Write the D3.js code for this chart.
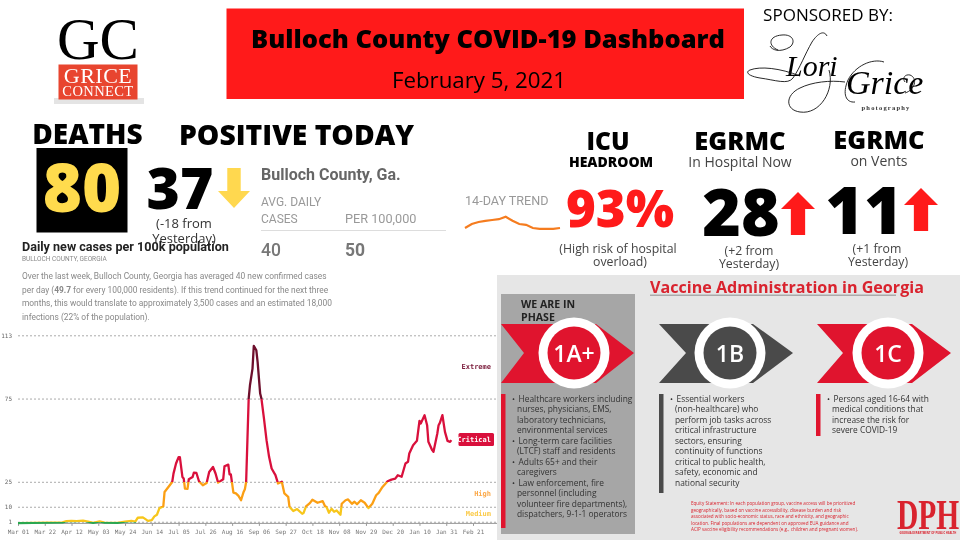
<!DOCTYPE html>
<html>
<head>
<meta charset="utf-8">
<script src="https://cdn.jsdelivr.net/npm/d3@7"></script>
<style>
  html, body { margin: 0; padding: 0; background: #fff; overflow: hidden; }
  svg { display: block; filter: blur(0.35px); }
  text { font-family: "Open Sans", sans-serif; }
  .mono text, text.mono { font-family: "DejaVu Sans Mono", monospace; }
</style>
</head>
<body>
<svg id="chart" width="960" height="540"></svg>
<script>
// days since Mar 01 2020 and daily new cases per 100k
const caseDays = [0, 35, 38, 42, 46, 51, 55, 59, 64, 68, 78, 84, 89, 92, 94, 98, 102, 105, 107, 109, 111, 114, 115, 118, 121, 122, 124, 126, 127, 129, 130, 131, 133, 134, 137, 138, 140, 142, 145, 148, 150, 153, 155, 157, 161, 162, 165, 166, 167, 169, 171, 173, 175, 177, 178, 179, 180, 181, 182, 184, 185, 187, 188, 190, 191, 193, 195, 197, 199, 202, 204, 207, 209, 212, 213, 216, 219, 223, 224, 226, 229, 231, 235, 239, 241, 242, 244, 246, 248, 250, 253, 254, 257, 259, 262, 264, 266, 269, 272, 275, 278, 281, 283, 286, 290, 293, 296, 298, 301, 304, 306, 307, 310, 313, 315, 316, 319, 321, 322, 325, 326, 329, 330, 331, 333, 335, 337, 339, 340];
const caseValues = [0.2, 0.6, 1.4, 1.5, 1.4, 1.7, 1.1, 0.3, 1.2, 0.5, 0.3, 1.0, 1.5, 1.1, 3.4, 3.6, 1.5, 1.9, 4.2, 5.2, 9.2, 10.2, 18.9, 21.9, 24.9, 29.9, 36, 39.8, 39.8, 27.9, 27, 20.9, 20.7, 26.5, 27.9, 30.5, 30.3, 25.3, 22.9, 24.3, 30.9, 33.9, 30, 24.5, 26.5, 34.3, 35.3, 29.5, 29.4, 18.5, 18, 16.5, 13.9, 18.9, 20.5, 24.9, 50, 75, 83, 93, 106.6, 104, 97, 78, 75, 63, 50, 40, 33, 29, 24, 25, 18, 16, 10, 7.4, 8.6, 5.8, 6.2, 10.2, 12.2, 14.2, 12.4, 13.4, 10.2, 10, 6.4, 8.8, 7, 7.8, 5.2, 11.8, 13.9, 14.4, 11.8, 13, 11.5, 13.9, 12.4, 9.2, 11.8, 16.9, 18.3, 21.9, 25.3, 26.3, 26.9, 28.9, 28, 36, 37, 42, 47, 49.6, 61.6, 60, 65, 59, 49, 44, 43, 54, 59, 60.4, 65, 55, 49.6, 49, 50];

const xTickDays = [0, 21, 42, 63, 84, 105, 126, 147, 168, 189, 210, 231, 252, 273, 294, 315, 336, 357];
const xTickLabels = ['Mar 01', 'Mar 22', 'Apr 12', 'May 03', 'May 24', 'Jun 14', 'Jul 05', 'Jul 26', 'Aug 16', 'Sep 06', 'Sep 27', 'Oct 18', 'Nov 08', 'Nov 29', 'Dec 20', 'Jan 10', 'Jan 31', 'Feb 21'];
const yTicks = [1, 10, 25, 75, 113];

// 14-day sparkline, avg daily cases
const trendValues = [40, 45, 47.5, 49, 50, 51, 54, 49, 45, 44, 40, 39, 39, 39, 40];

const paragraphLines = [
    ['Over the last week, Bulloch County, Georgia has averaged 40 new confirmed cases'],
    ['per day (', '49.7', ' for every 100,000 residents). If this trend continued for the next three'],
    ['months, this would translate to approximately 3,500 cases and an estimated 18,000'],
    ['infections (22% of the population).']
];
const phase1A = ['Healthcare workers including', 'nurses, physicians, EMS,', 'laboratory technicians,', 'environmental services', 'Long-term care facilities', '(LTCF) staff and residents', 'Adults 65+ and their', 'caregivers', 'Law enforcement, fire', 'personnel (including', 'volunteer fire departments),', 'dispatchers, 9-1-1 operators'];
const phase1ABullets = [0, 4, 6, 8];
const phase1B = ['Essential workers', '(non-healthcare) who', 'perform job tasks across', 'critical infrastructure', 'sectors, ensuring', 'continuity of functions', 'critical to public health,', 'safety, economic and', 'national security'];
const phase1C = ['Persons aged 16-64 with', 'medical conditions that', 'increase the risk for', 'severe COVID-19'];
const equityLines = [
    'Equity Statement: In each population group, vaccine access will be prioritized',
    'geographically, based on vaccine accessibility, disease burden and risk',
    'associated with socio-economic status, race and ethnicity, and geographic',
    'location. Final populations are dependent on approved EUA guidance and',
    'ACIP vaccine eligibility recommendations (e.g., children and pregnant women).'
];

const RED = '#ff1a1a';
const svg = d3.select('#chart');

// small helper, most of this page is just placed text
function label(parent, x, y, str, size, opts = {}) {
    return parent.append('text')
        .attr('x', x)
        .attr('y', y)
        .attr('text-anchor', opts.anchor || 'start')
        .style('font-size', size + 'px')
        .style('font-weight', opts.weight || 400)
        .style('font-family', opts.font || null)
        .style('letter-spacing', opts.spacing || null)
        .attr('fill', opts.fill || '#000')
        .text(str);
}

function arrow(x, yTail, yTip, w, color) {
    const dir = yTip > yTail ? 1 : -1;
    const headLen = 17;
    const shaft = w * 0.21;
    const neck = yTip - dir * headLen;
    svg.append('polygon')
        .attr('fill', color)
        .attr('points', [
            [x - shaft, yTail], [x + shaft, yTail], [x + shaft, neck], [x + w / 2, neck],
            [x, yTip], [x - w / 2, neck], [x - shaft, neck]
        ].join(' '));
}

// ---- header ----
label(svg, 98, 59, 'GC', 59, { anchor: 'middle', font: '"Liberation Serif", serif' });
svg.append('rect').attr('x', 54).attr('y', 98).attr('width', 90).attr('height', 6).attr('fill', '#e4e4e4');
svg.append('rect').attr('x', 58.5).attr('y', 64.5).attr('width', 79).attr('height', 35).attr('fill', '#e8452f');
label(svg, 98, 83, 'GRICE', 22, { anchor: 'middle', font: '"Liberation Serif", serif', fill: '#fff', spacing: '0.5px' });
label(svg, 98, 96, 'CONNECT', 14.5, { anchor: 'middle', font: '"Liberation Serif", serif', fill: '#fff', spacing: '0.4px' });

svg.append('rect').attr('x', 226.5).attr('y', 8.5).attr('width', 517.5).attr('height', 90.5).attr('fill', RED);
label(svg, 488, 48, 'Bulloch County COVID-19 Dashboard', 25.5, { anchor: 'middle', weight: 800 });
label(svg, 479, 88, 'February 5, 2021', 22.3, { anchor: 'middle' });

label(svg, 828, 21, 'SPONSORED BY:', 17, { anchor: 'middle' });
label(svg, 786, 76, 'Lori', 30, { font: '"Liberation Serif", serif' }).style('font-style', 'italic');
label(svg, 846, 94, 'Grice', 34, { font: '"Liberation Serif", serif' }).style('font-style', 'italic');
label(svg, 886, 110, 'photography', 6.5, { anchor: 'middle', font: '"Liberation Serif", serif', spacing: '1.2px', weight: 700, fill: '#333' });
// script flourishes of the sponsor logo
svg.append('g').attr('fill', 'none').attr('stroke', '#111').attr('stroke-width', 0.9)
    .selectAll('path')
    .data([
        'M778,50 C768,46 768,36 782,35 C793,34 796,42 790,47 C780,53 772,50 770,46',
        'M827,36 C824,30 818,33 812,42 C805,54 800,68 793,78 C788,85 775,80 760,78 C748,76 745,72 750,70 C760,66 780,68 800,76',
        'M829,70 C835,90 820,115 800,112 C785,110 785,95 800,88 C812,82 830,80 845,82',
        'M884,62 C872,58 855,66 848,80 C842,94 846,103 855,102',
        'M905,93 C915,90 918,78 910,75 C905,74 902,78 905,82'
    ])
    .join('path')
    .attr('d', (d) => d);

// ---- big numbers, left ----
label(svg, 87.5, 144, 'DEATHS', 28, { anchor: 'middle', weight: 800 });
label(svg, 296.5, 145, 'POSITIVE TODAY', 28.3, { anchor: 'middle', weight: 800 });
svg.append('rect').attr('x', 36.5).attr('y', 148).attr('width', 91).attr('height', 84.5).attr('fill', '#000');
label(svg, 82, 212, '80', 67, { anchor: 'middle', weight: 800, fill: '#ffdb4d' });
label(svg, 180, 209, '37', 57, { anchor: 'middle', weight: 800 });
arrow(234, 168, 208, 32, '#ffd84f');
label(svg, 184, 228, '(-18 from', 13, { anchor: 'middle', fill: '#333' });
label(svg, 184, 243, 'Yesterday)', 13, { anchor: 'middle', fill: '#333' });

// ---- county stats ----
label(svg, 261, 180, 'Bulloch County, Ga.', 16, { weight: 700, fill: '#666', font: 'Roboto, sans-serif' });
label(svg, 261, 206, 'AVG. DAILY', 12, { fill: '#999', font: 'Roboto, sans-serif' });
label(svg, 261, 223, 'CASES', 12, { fill: '#999', font: 'Roboto, sans-serif' });
label(svg, 345, 223, 'PER 100,000', 12.7, { fill: '#999', font: 'Roboto, sans-serif' });
svg.append('line').attr('x1', 261).attr('x2', 446).attr('y1', 230.5).attr('y2', 230.5).attr('stroke', '#ddd');
label(svg, 261, 256, '40', 17.5, { weight: 500, fill: '#777', font: 'Roboto, sans-serif' });
label(svg, 345, 256, '50', 17.5, { weight: 700, fill: '#777', font: 'Roboto, sans-serif' });

label(svg, 465, 205, '14-DAY TREND', 12.6, { fill: '#999', font: 'Roboto, sans-serif' });
const trendX = d3.scaleLinear().domain([0, 14]).range([465, 560]);
const trendY = d3.scaleLinear().domain([40, 55]).range([228, 216]);
svg.append('path')
    .datum(trendValues)
    .attr('fill', 'none')
    .attr('stroke', '#f57c1f')
    .attr('stroke-width', 2.2)
    .attr('d', d3.line().x((d, i) => trendX(i)).y((d) => trendY(d)));

// ---- hospital figures, right ----
label(svg, 608, 150, 'ICU', 24.5, { anchor: 'middle', weight: 800 });
label(svg, 611, 167, 'HEADROOM', 14, { anchor: 'middle', weight: 800 });
label(svg, 740, 150, 'EGRMC', 25.5, { anchor: 'middle', weight: 800 });
label(svg, 740, 167, 'In Hospital Now', 14, { anchor: 'middle', fill: '#444' });
label(svg, 879, 149, 'EGRMC', 25.5, { anchor: 'middle', weight: 800 });
label(svg, 879, 166, 'on Vents', 14, { anchor: 'middle', fill: '#444' });
label(svg, 620, 227, '93%', 51, { anchor: 'middle', weight: 800, fill: RED });
label(svg, 741, 236, '28', 66, { anchor: 'middle', weight: 800 });
label(svg, 864, 234, '11', 66, { anchor: 'middle', weight: 800 });
arrow(798, 235, 192, 34, RED);
arrow(921, 231, 188, 34, RED);
label(svg, 618, 253, '(High risk of hospital', 12.3, { anchor: 'middle', fill: '#444' });
label(svg, 620, 266, 'overload)', 12.3, { anchor: 'middle', fill: '#444' });
label(svg, 749, 255, '(+2 from', 12.3, { anchor: 'middle', fill: '#444' });
label(svg, 749, 268, 'Yesterday)', 12.3, { anchor: 'middle', fill: '#444' });
label(svg, 877, 253, '(+1 from', 12.3, { anchor: 'middle', fill: '#444' });
label(svg, 878, 266, 'Yesterday)', 12.3, { anchor: 'middle', fill: '#444' });

// ---- chart heading ----
label(svg, 22, 251, 'Daily new cases per 100k population', 12.6, { weight: 700, fill: '#222', font: 'Roboto, sans-serif' });
label(svg, 22, 261, 'BULLOCH COUNTY, GEORGIA', 6.5, { fill: '#888', font: 'Roboto, sans-serif' });
paragraphLines.forEach((parts, i) => {
    const t = label(svg, 22, 279 + i * 13.5, '', 8.4, { fill: '#888', font: 'Roboto, sans-serif' });
    parts.forEach((p) => {
        t.append('tspan').style('font-weight', p === '49.7' ? 700 : 400).text(p);
    });
});

// ---- cases line chart ----
const x = d3.scaleLinear().domain([0, 357]).range([18, 473]);
const y = d3.scaleLinear().domain([0, 113]).range([523.4, 335.3]);
const plotRight = 497;

const yAxis = svg.append('g')
    .attr('class', 'mono')
    .attr('transform', 'translate(18,0)')
    .call(d3.axisLeft(y).tickValues(yTicks).tickSize(-(plotRight - 18)).tickPadding(6));
yAxis.select('.domain').remove();
yAxis.selectAll('line').attr('stroke', '#aaa').attr('stroke-dasharray', '2,2');
yAxis.selectAll('text').style('font-size', '6px').attr('fill', '#666');

const xAxis = svg.append('g')
    .attr('class', 'mono')
    .attr('transform', `translate(0,${y(0)})`)
    .call(d3.axisBottom(x).tickValues(xTickDays).tickFormat((d, i) => xTickLabels[i]).tickSize(2.5).tickPadding(4));
xAxis.select('.domain').remove();
xAxis.selectAll('line').attr('stroke', '#999');
xAxis.selectAll('text').style('font-size', '6px').attr('fill', '#777');
svg.append('line')
    .attr('x1', 18).attr('x2', plotRight)
    .attr('y1', y(0)).attr('y2', y(0))
    .attr('stroke', '#999');

// risk level colours switch at the gridlines
const RISK_BANDS = [
    { from: 0, to: 1, color: '#2aa84f' },
    { from: 1, to: 10, color: '#f7c61b' },
    { from: 10, to: 25, color: '#fb9f14' },
    { from: 25, to: 75, color: '#d9103c' },
    { from: 75, to: 113, color: '#6e0f2c' }
];
const gradient = svg.append('defs').append('linearGradient')
    .attr('id', 'risk-gradient')
    .attr('gradientUnits', 'userSpaceOnUse')
    .attr('x1', 0).attr('x2', 0)
    .attr('y1', y(0)).attr('y2', y(113));
RISK_BANDS.forEach((b) => {
    gradient.append('stop').attr('offset', b.from / 113).attr('stop-color', b.color);
    gradient.append('stop').attr('offset', b.to / 113).attr('stop-color', b.color);
});

const caseLine = d3.line()
    .x((d, i) => x(caseDays[i]))
    .y((d) => y(d));
svg.append('path')
    .datum(caseValues)
    .attr('fill', 'none')
    .attr('stroke', 'url(#risk-gradient)')
    .attr('stroke-width', 2.3)
    .attr('stroke-linejoin', 'round')
    .attr('d', caseLine);

label(svg, 491, 369, 'Extreme', 7, { anchor: 'end', weight: 700, fill: '#7a1a3a', font: '"DejaVu Sans Mono", monospace' });
svg.append('rect').attr('x', 458.5).attr('y', 433).attr('width', 35.5).attr('height', 13).attr('rx', 1.5).attr('fill', '#d9103c');
label(svg, 491, 442, 'Critical', 7, { anchor: 'end', weight: 700, fill: '#fff', font: '"DejaVu Sans Mono", monospace' });
label(svg, 491, 496, 'High', 7, { anchor: 'end', weight: 700, fill: '#fba94a', font: '"DejaVu Sans Mono", monospace' });
label(svg, 491, 516, 'Medium', 7, { anchor: 'end', weight: 700, fill: '#fbcb4a', font: '"DejaVu Sans Mono", monospace' });

// ---- vaccine panel ----
svg.append('rect').attr('x', 497).attr('y', 275).attr('width', 463).attr('height', 265).attr('fill', '#e6e6e6');
svg.append('rect').attr('x', 650).attr('y', 294.5).attr('width', 246).attr('height', 1.5).attr('fill', '#aaa');
label(svg, 650, 293, 'Vaccine Administration in Georgia', 16.1, { weight: 700, fill: '#d9232e' });
svg.append('rect').attr('x', 501).attr('y', 294).attr('width', 134).attr('height', 240).attr('fill', '#a6a6a6');
label(svg, 521, 308, 'WE ARE IN', 10.6, { weight: 700, fill: '#222' });
label(svg, 521, 321, 'PHASE', 10.6, { weight: 700, fill: '#222' });

function phaseBadge(xLeft, notch, shoulder, tip, cx, color, name) {
    svg.append('polygon')
        .attr('fill', color)
        .attr('points', [[xLeft, 324], [shoulder, 324], [tip, 353], [shoulder, 383], [xLeft, 383], [notch, 353]].join(' '));
    svg.append('circle').attr('cx', cx).attr('cy', 353).attr('r', 35.5).attr('fill', '#fff');
    svg.append('circle').attr('cx', cx).attr('cy', 353).attr('r', 26.5).attr('fill', color);
    label(svg, cx, 362, name, 23, { anchor: 'middle', weight: 600, fill: '#fff' });
}
phaseBadge(501, 524, 596, 634, 574, '#e0142e', '1A+');
phaseBadge(659, 686, 753, 793, 730, '#4a4a4a', '1B');
phaseBadge(817, 843, 912, 951, 888, '#e0142e', '1C');

function phaseList(lines, bullets, xBar, barBottom, color) {
    svg.append('rect').attr('x', xBar).attr('y', 394).attr('width', 4.5).attr('height', barBottom - 394).attr('fill', color);
    lines.forEach((line, i) => {
        const isBullet = bullets.includes(i);
        label(svg, xBar + (isBullet ? 17.5 : 16), 401.5 + i * 10.5, line, 8.4, { fill: '#333' });
        if (isBullet) label(svg, xBar + 11, 401.5 + i * 10.5, '•', 8, { fill: '#333' });
    });
}
phaseList(phase1A, phase1ABullets, 501, 528, '#e0142e');
phaseList(phase1B, [0], 659, 493, '#4a4a4a');
phaseList(phase1C, [0], 816, 436, '#e0142e');

equityLines.forEach((line, i) => {
    label(svg, 691, 505 + i * 6.6, line, 4.6, { fill: '#d9232e' });
});
// DPH mark is tall and narrow in the logo, so stretch it
label(svg, 0, 0, 'DPH', 29.5, { anchor: 'middle', weight: 700, fill: '#d9232e', font: '"Liberation Serif", serif' })
    .attr('transform', 'translate(928,529) scale(1,1.4)');
label(svg, 928, 534, 'GEORGIA DEPARTMENT OF PUBLIC HEALTH', 2.7, { anchor: 'middle', weight: 700, fill: '#d9232e' });
</script>
</body>
</html>
